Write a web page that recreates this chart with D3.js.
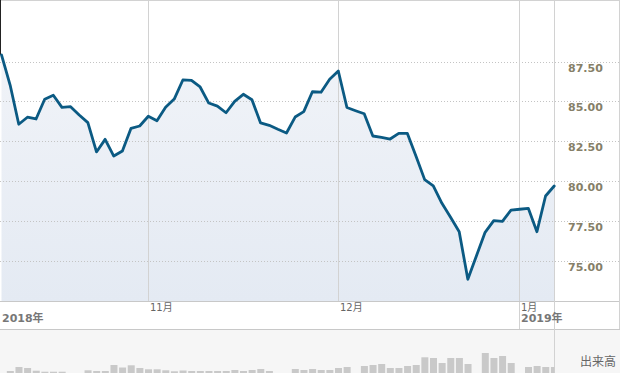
<html>
<head>
	<script src="https://d3js.org/d3.v7.min.js"></script>
	<style>
		body { margin: 0; background: #fff; }
	</style>
</head>
<body>
<script>

// closing prices, one per weekday (9 Oct 2018 .. 7 Jan 2019)
let prices = [87.91, 86.02, 83.56, 84.00, 83.89, 85.13, 85.38, 84.62, 84.66, 84.14,
	83.66, 81.82, 82.61, 81.56, 81.88, 83.30, 83.45, 84.06, 83.78, 84.62,
	85.14, 86.34, 86.32, 85.90, 84.89, 84.70, 84.28, 85.00, 85.44, 85.10,
	83.64, 83.49, 83.24, 83.01, 84.01, 84.35, 85.60, 85.57, 86.38, 86.90,
	84.61, 84.41, 84.22, 82.82, 82.73, 82.63, 82.99, 82.98, 81.55, 80.08,
	79.69, 78.59, 77.71, 76.81, 73.82, 75.30, 76.77, 77.50, 77.46, 78.17,
	78.22, 78.28, 76.81, 79.05, 79.68];

// volume (relative units), 0 = no trading
let volumes = [0, 2, 6, 5, 2.3, 1.3, 1.3, 1.3, 0, 0,
	2.7, 2, 2, 8, 5.5, 7.7, 5, 3.7, 3.7, 2.7,
	1.7, 2.5, 2, 2, 2, 2, 2, 3, 2, 3,
	4, 2, 0, 0, 4, 3, 4, 3, 3, 5,
	6, 0, 7, 8, 9, 5, 5, 7, 8, 15.7,
	15, 10, 15, 15, 9, 0, 20, 15, 17, 10,
	0, 6, 7, 6, 6];

let yTicks = [75, 77.5, 80, 82.5, 85, 87.5];
let monthLabels = ["11月", "12月", "1月"];
let monthStart = [17, 39, 60];
let yearLabels = ["2018年", "2019年"];
let yearStart = [0, 60];

let canvasW = 620;
let canvasH = 373;
let plotR = 554.5;
let plotB = 301;
let bandB = 329;

let x = d3.scaleLinear()
	.domain([0, prices.length - 1])
	.range([1.5, 554.2]);

let y = d3.scaleLinear()
	.domain([75, 87.5])
	.range([260.5, 61.5]);

let yVol = d3.scaleLinear()
	.domain([0, 44])
	.range([canvasH, bandB]);

let svg = d3.select("body").append("svg")
	.attr("width", canvasW)
	.attr("height", canvasH)
	.style("display", "block");

let defs = svg.append("defs");
let grad = defs.append("linearGradient")
	.attr("id", "fillGrad")
	.attr("x1", 0).attr("y1", 0).attr("x2", 0).attr("y2", 1)
	.attr("gradientUnits", "userSpaceOnUse")
	.attr("y1", 0).attr("y2", plotB);
grad.append("stop").attr("offset", "0%").attr("stop-color", "#f3f5f9");
grad.append("stop").attr("offset", "100%").attr("stop-color", "#e4eaf3");

defs.append("clipPath").attr("id", "plotClip")
	.append("rect")
	.attr("x", 0).attr("y", 0)
	.attr("width", plotR).attr("height", canvasH);

// volume strip background
svg.append("rect")
	.attr("x", 0).attr("y", bandB)
	.attr("width", canvasW).attr("height", canvasH - bandB)
	.attr("fill", "#f6f6f6");

// area under the line
let area = d3.area()
	.x((d, i) => x(i))
	.y0(plotB)
	.y1(d => y(d));

svg.append("path")
	.datum(prices)
	.attr("clip-path", "url(#plotClip)")
	.attr("fill", "url(#fillGrad)")
	.attr("d", area);

// dotted horizontal grid
svg.selectAll(".hgrid")
	.data(yTicks)
	.enter()
	.append("line")
	.attr("x1", 0)
	.attr("x2", canvasW - 1)
	.attr("y1", d => Math.round(y(d)) + 0.5)
	.attr("y2", d => Math.round(y(d)) + 0.5)
	.attr("stroke", "#c4c4c4")
	.attr("stroke-dasharray", "1,2");

// month grid lines
svg.selectAll(".vgrid")
	.data(monthStart)
	.enter()
	.append("line")
	.attr("x1", d => Math.floor(x(d)) + 0.5)
	.attr("x2", d => Math.floor(x(d)) + 0.5)
	.attr("y1", 0)
	.attr("y2", (d, i) => i == monthStart.length - 1 ? bandB : plotB)
	.attr("stroke", "#d2d2d2");

// frame lines
svg.append("line").attr("x1", 0).attr("x2", canvasW).attr("y1", 0.5).attr("y2", 0.5).attr("stroke", "#d2d2d2");
svg.append("line").attr("x1", 0).attr("x2", canvasW).attr("y1", plotB + 0.5).attr("y2", plotB + 0.5).attr("stroke", "#c8c8c8");
svg.append("line").attr("x1", 0).attr("x2", canvasW).attr("y1", bandB + 0.5).attr("y2", bandB + 0.5).attr("stroke", "#c8c8c8");
svg.append("line").attr("x1", plotR).attr("x2", plotR).attr("y1", 0).attr("y2", canvasH).attr("stroke", "#d2d2d2");
svg.append("line").attr("x1", canvasW - 0.5).attr("x2", canvasW - 0.5).attr("y1", 0).attr("y2", bandB).attr("stroke", "#d2d2d2");
svg.append("line").attr("x1", 0.5).attr("x2", 0.5).attr("y1", 0).attr("y2", y(prices[0])).attr("stroke", "#222");

// volume bars
svg.append("g")
	.attr("clip-path", "url(#plotClip)")
	.selectAll("rect")
	.data(volumes)
	.enter()
	.append("rect")
	.attr("x", (d, i) => x(i) - 3.3)
	.attr("width", 7)
	.attr("y", d => yVol(d))
	.attr("height", d => canvasH - yVol(d))
	.attr("fill", "#c9c9c9");

// price line
let line = d3.line()
	.x((d, i) => x(i))
	.y(d => y(d));

svg.append("path")
	.datum(prices)
	.attr("fill", "none")
	.attr("stroke", "#0b5a83")
	.attr("stroke-width", 2.8)
	.attr("stroke-linejoin", "round")
	.attr("stroke-linecap", "round")
	.attr("d", line);

// y axis labels
svg.selectAll(".ylab")
	.data(yTicks)
	.enter()
	.append("text")
	.attr("x", 568)
	.attr("y", d => Math.round(y(d)) + 10)
	.attr("font-family", "DejaVu Sans, sans-serif")
	.attr("font-size", "11px")
	.attr("font-weight", "bold")
	.attr("fill", "#867f68")
	.text(d => d.toFixed(2));

// month labels
svg.selectAll(".mlab")
	.data(monthStart)
	.enter()
	.append("text")
	.attr("x", d => Math.floor(x(d)) + 2)
	.attr("y", 311)
	.attr("font-family", "DejaVu Sans, 'Noto Sans CJK JP', sans-serif")
	.attr("font-size", "10px")
	.attr("fill", "#666")
	.text((d, i) => monthLabels[i]);

// year labels
svg.selectAll(".ylab2")
	.data(yearStart)
	.enter()
	.append("text")
	.attr("x", d => d == 0 ? 2 : Math.floor(x(d)) + 2)
	.attr("y", 322)
	.attr("font-family", "DejaVu Sans, 'Noto Sans CJK JP', sans-serif")
	.attr("font-size", "11px")
	.attr("font-weight", "bold")
	.attr("fill", "#777")
	.text((d, i) => yearLabels[i]);

svg.append("text")
	.attr("x", 580)
	.attr("y", 366)
	.attr("font-family", "'Noto Sans CJK JP', sans-serif")
	.attr("font-size", "12px")
	.attr("fill", "#666")
	.text("出来高");

</script>
</body>
</html>
